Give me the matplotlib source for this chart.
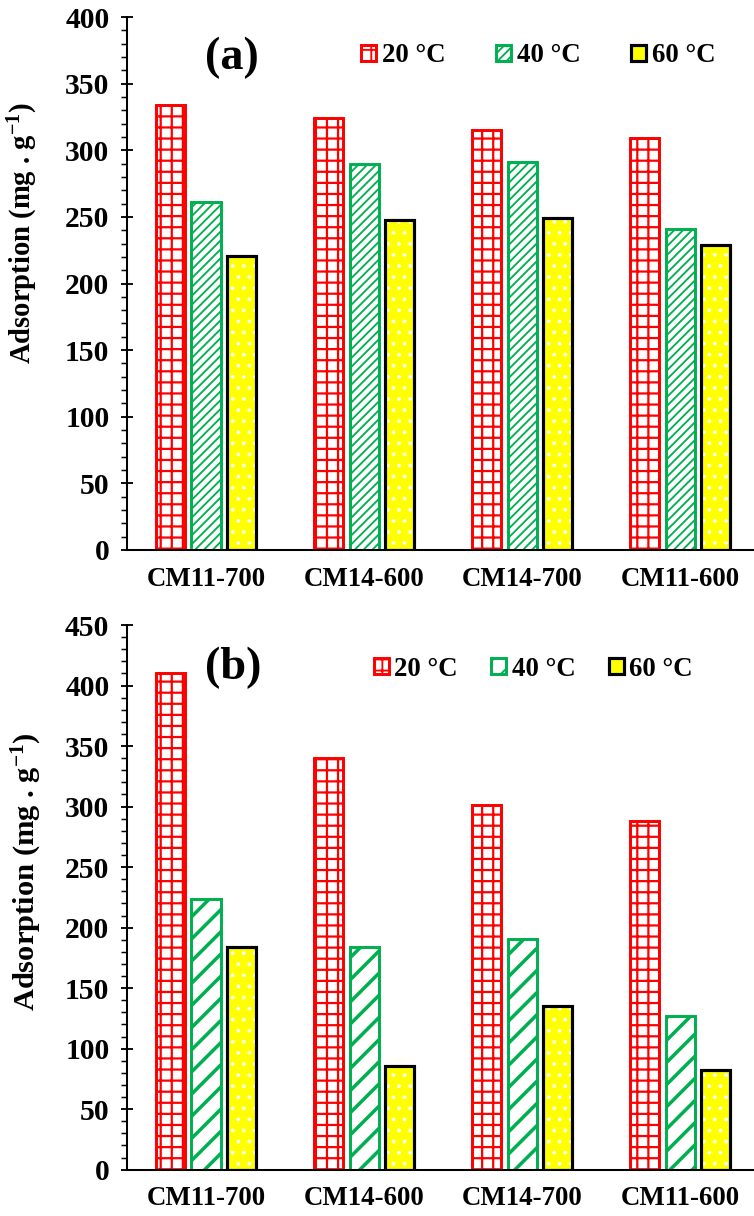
import matplotlib
matplotlib.use('Agg')
import matplotlib.pyplot as plt
from matplotlib.ticker import MultipleLocator
from matplotlib.patches import Patch
import numpy as np

categories = ['CM11-700', 'CM14-600', 'CM14-700', 'CM11-600']
series_labels = ['20 °C', '40 °C', '60 °C']

a_20 = [334, 324, 315, 309]
a_40 = [261, 290, 291, 241]
a_60 = [221, 248, 249, 229]

b_20 = [410, 340, 301, 288]
b_40 = [224, 184, 191, 127]
b_60 = [184, 86, 135, 82]

RED = '#FF0000'
GREEN = '#00B050'
YELLOW = '#FFFF00'

DPI = 133.333
plt.rcParams['font.family'] = ['Liberation Serif', 'DejaVu Serif']
plt.rcParams['font.weight'] = 'bold'
plt.rcParams['axes.labelweight'] = 'bold'
plt.rcParams['mathtext.default'] = 'bf'
plt.rcParams['mathtext.fontset'] = 'custom'
plt.rcParams['mathtext.bf'] = 'Liberation Serif:bold'
plt.rcParams['mathtext.rm'] = 'Liberation Serif:bold'

fig = plt.figure(figsize=(754 / DPI, 1216 / DPI), dpi=DPI)

W = 0.184
STEP = 0.225


def hbar(ax, x, vals, hlw, **kw):
    with plt.rc_context({'hatch.linewidth': hlw}):
        bars = ax.bar(x, vals, W, **kw)
    for b in bars:
        if hasattr(b, 'set_hatch_linewidth'):
            b.set_hatch_linewidth(hlw)
    return bars


def panel(rect, v20, v40, v60, ymax, letter, ghatch, ghlw, leg_anchor, colsp,
          letter_xy, ylabel_xy, ylabel_size):
    ax = fig.add_axes(rect)
    x = np.arange(len(categories))
    r = hbar(ax, x - STEP, v20, 1.2, facecolor='white', edgecolor=RED,
             hatch='++', linewidth=1.6, label=series_labels[0])
    g = hbar(ax, x, v40, ghlw, facecolor='white', edgecolor=GREEN,
             hatch=ghatch, linewidth=1.6, label=series_labels[1])
    hbar(ax, x + STEP, v60, 0.8, facecolor=YELLOW, edgecolor='white',
         hatch='..', linewidth=0)
    ax.bar(x + STEP, v60, W, fill=False, edgecolor='black', linewidth=1.7)
    yproxy = Patch(facecolor=YELLOW, edgecolor='black', linewidth=1.7, label=series_labels[2])

    ax.set_xlim(-0.5, 3.46)
    ax.set_ylim(0, ymax)
    ax.yaxis.set_major_locator(MultipleLocator(50))
    ax.yaxis.set_minor_locator(MultipleLocator(10))
    ax.set_xticks(x)
    ax.set_xticklabels(categories, fontsize=14.5, fontweight='bold')
    ax.tick_params(axis='x', length=0, pad=9)
    ax.tick_params(axis='y', which='major', direction='inout', length=7, width=1.0,
                   labelsize=16, pad=6)
    ax.tick_params(axis='y', which='minor', direction='out', length=3.5, width=0.8)
    for s in ['top', 'right']:
        ax.spines[s].set_visible(False)
    for s in ['left', 'bottom']:
        ax.spines[s].set_linewidth(1.1)
    for lab in ax.get_yticklabels():
        lab.set_fontweight('bold')
    ax.set_ylabel('Adsorption (mg . g$^{-1}$)', fontsize=ylabel_size, fontweight='bold')
    ax.yaxis.set_label_coords(*ylabel_xy)
    ax.text(letter_xy[0], letter_xy[1], letter, transform=ax.transAxes, fontsize=25,
            fontweight='bold', ha='center', va='center')
    ax.legend(handles=[r, g, yproxy], loc='center right', bbox_to_anchor=leg_anchor,
              ncol=3, frameon=False, prop={'weight': 'bold', 'size': 14.5},
              handlelength=0.56, handleheight=0.56, handletextpad=0.2,
              columnspacing=colsp, borderpad=0, borderaxespad=0)
    return ax


# panel (a)
panel([127 / 754, 1 - 550 / 1216, 626 / 754, 533 / 1216], a_20, a_40, a_60, 400,
      '(a)', '/////', 1.0, (0.94, 0.927), 1.9, (0.168, 0.923), (-0.139, 0.595), 15.5)
# panel (b)
panel([127 / 754, 1 - 1169.7 / 1216, 626 / 754, 544.7 / 1216], b_20, b_40, b_60, 450,
      '(b)', '//', 1.9, (0.904, 0.919), 1.25, (0.17, 0.921), (-0.132, 0.548), 16.5)

fig.savefig('out.png', dpi=DPI)
